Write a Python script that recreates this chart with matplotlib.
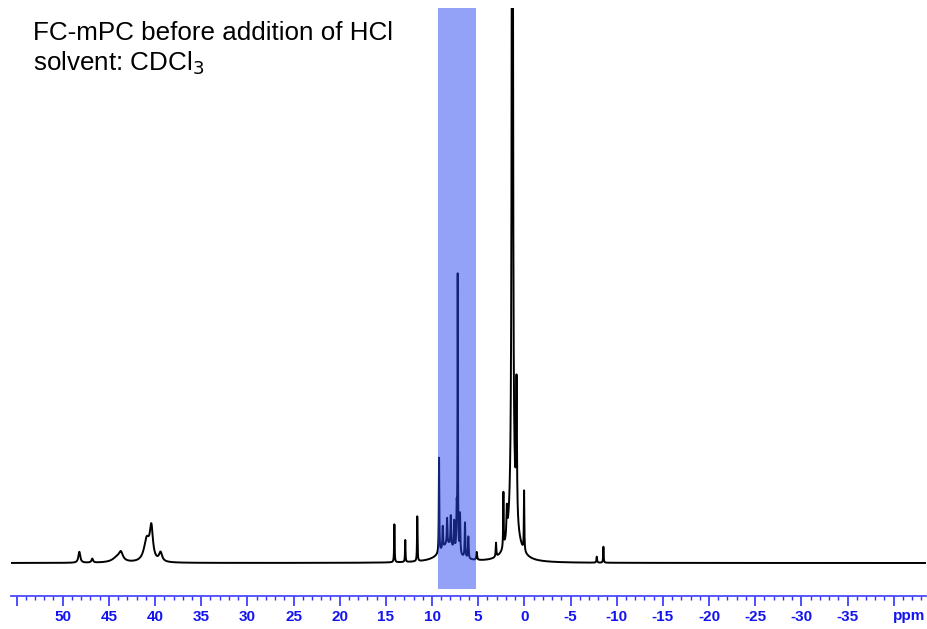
import numpy as np
import matplotlib
matplotlib.use("Agg")
import matplotlib.pyplot as plt

# Peak list: position (ppm), height (arb. units above baseline), half-width (ppm)
peak_ppm = [48.2, 46.8, 44.1, 43.7, 40.9, 40.4, 39.4,
            14.08, 12.9, 11.6,
            9.24, 8.3, 8.84, 8.37, 7.97, 7.6, 7.33, 7.22, 6.97, 6.43, 6.07, 5.16,
            3.07, 2.27, 1.9, 1.3, 1.2, 0.85, 0.03,
            -7.84, -8.56]
peak_height = [11, 4, 5, 8, 22, 32, 9,
               38, 22, 45,
               95, 18, 22, 26, 30, 28, 40, 275, 40, 35, 22, 8,
               14, 55, 28, 1600, 45, 135, 60,
               6, 16]
peak_width = [0.12, 0.1, 0.6, 0.25, 0.35, 0.2, 0.2,
              0.03, 0.03, 0.03,
              0.03, 1.0, 0.04, 0.04, 0.04, 0.04, 0.04, 0.025, 0.04, 0.04, 0.04, 0.05,
              0.04, 0.03, 0.05, 0.05, 0.6, 0.05, 0.03,
              0.04, 0.03]

tick_values = [50, 45, 40, 35, 30, 25, 20, 15, 10, 5, 0, -5, -10, -15, -20, -25, -30, -35]
highlight_range = (9.3, 5.2)

ppm = np.linspace(55.6, -43.5, 30000)
spec = np.zeros_like(ppm)
for p, h, w in zip(peak_ppm, peak_height, peak_width):
    spec += h * w**2 / ((ppm - p)**2 + w**2)

W, H = 927, 629
fig = plt.figure(figsize=(W / 100, H / 100), dpi=100)
ax = fig.add_axes([11 / W, 1 - 596 / H, (926 - 11) / W, (596 - 8) / H])

ax.plot(ppm, spec, color="black", lw=1.4)
ax.set_xlim(55.6, -43.5)
ax.set_ylim(-33, 555)

ax.axvspan(highlight_range[0], highlight_range[1], ymin=7 / 588, ymax=1.0,
           color="#2844F0", alpha=0.5, lw=0, zorder=3)

for s in ["left", "top", "right"]:
    ax.spines[s].set_visible(False)
ax.spines["bottom"].set_color("#4a4aff")
ax.spines["bottom"].set_linewidth(1.3)
ax.set_yticks([])

major = list(range(55, -41, -5))
ax.set_xticks(major)
ax.set_xticklabels([str(v) if v in tick_values else "" for v in major],
                   fontfamily="Liberation Sans", fontweight="bold", fontsize=11,
                   color="#1414f0")
ax.set_xticks(np.arange(55, -44, -1), minor=True)
ax.tick_params(axis="x", which="major", length=7, width=1.2, color="#3030ff", pad=3)
ax.tick_params(axis="x", which="minor", length=3, width=1.0, color="#3030ff")

fig.text(909 / W, 1 - 616 / H, "ppm", ha="center", va="center",
         fontfamily="Liberation Sans", fontweight="bold", fontsize=11, color="#1414f0")

fig.text(33 / W, 1 - 33 / H, "FC-mPC before addition of HCl", ha="left", va="center",
         fontfamily="Liberation Sans", fontsize=18.7, color="black")
fig.text(33 / W, 1 - 63 / H, "solvent: CDCl$_3$", ha="left", va="center",
         fontfamily="Liberation Sans", fontsize=18.7, color="black")

fig.savefig("out.png", dpi=100)
